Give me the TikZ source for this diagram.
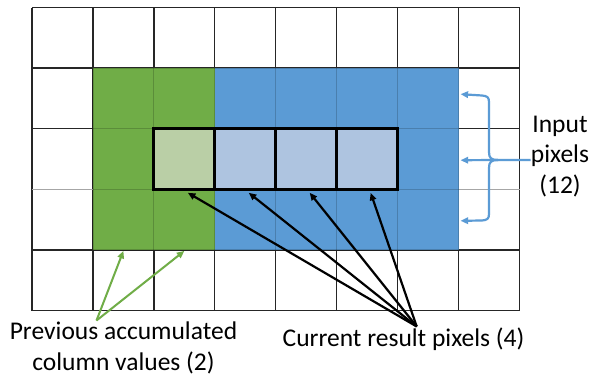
\documentclass[tikz,border=0pt]{standalone}
\usepackage{fontspec}
\setmainfont{Carlito}
\usetikzlibrary{arrows.meta}
\definecolor{accgreen}{HTML}{70AD47}
\definecolor{accblue}{HTML}{5B9BD5}
\definecolor{paleg}{HTML}{BACFA6}
\definecolor{paleb}{HTML}{AEC4E0}
\tikzset{
  gridline/.style={line width=1.3pt, black!85},
  faintline/.style={line width=1.2pt, black, opacity=0.18},
  rescell/.style={draw=black, line width=3pt, minimum width=60.94pt, minimum height=60.6pt, inner sep=0pt},
  lbl/.style={font=\fontsize{25.5}{30.5}\selectfont, align=center, inner sep=0pt},
  blackarrow/.style={line width=2.2pt, black, -{Triangle[length=7.5pt,width=6.5pt]}},
  greenarrow/.style={line width=2pt, accgreen, -{Triangle[length=7.5pt,width=6.5pt]}},
  bluearrow/.style={line width=2.2pt, accblue, -{Triangle[length=7.5pt,width=6.5pt]}},
}
\begin{document}
\begin{tikzpicture}[x=1pt, y=-1pt]
  \useasboundingbox (0,0) rectangle (592,378);
  \fill[white] (0,0) rectangle (592,378);

  % pixel grid, 8 columns x 5 rows
  \begin{scope}[shift={(32pt,-7.5pt)}, x=60.94pt, y=-60.6pt]
    \foreach \i in {0,...,8} \draw[gridline] (\i,0) -- (\i,5);
    \foreach \j in {0,...,5} \draw[gridline] (0,\j) -- (8,\j);
    % lighter row separator at the outer columns
    \draw[line width=1.3pt, black!35] (0,3) -- (1,3);
    \draw[line width=1.3pt, black!35] (7,3) -- (8,3);

    % accumulated columns and input pixels
    \fill[accgreen] (1,1) rectangle (3,4);
    \fill[accblue] (3,1) rectangle (7,4);
    \foreach \i in {1,...,7} \draw[faintline] (\i,1) -- (\i,4);
    \foreach \j in {1,...,4} \draw[faintline] (1,\j) -- (7,\j);

    % current result pixels
    \node[rescell, fill=paleg] (r1) at (2.5,2.5) {};
    \node[rescell, fill=paleb] (r2) at (3.5,2.5) {};
    \node[rescell, fill=paleb] (r3) at (4.5,2.5) {};
    \node[rescell, fill=paleb] (r4) at (5.5,2.5) {};

    % targets on the lower edge of the accumulated columns
    \coordinate (g1) at (1.5,4);
    \coordinate (g2) at (2.5,4);
    % targets on the right edge of the input pixels
    \coordinate (in1) at (7,1.43);
    \coordinate (in2) at (7,2.52);
    \coordinate (in3) at (7,3.52);
  \end{scope}

  % labels (base = baseline of the last line)
  \node[lbl, anchor=base] (inlbl) at (560,193) {Input\\pixels\\(12)};
  \node[lbl, anchor=base] (prevlbl) at (123.5,370) {Previous accumulated\\column values (2)};
  \node[lbl, anchor=base] (curlbl) at (403.5,346.7) {Current result pixels (4)};

  \coordinate (prevtip) at (96.5,320.5);
  \coordinate (curtip) at (416.7,326.5);
  \coordinate (bracetip) at (498,160);
  \coordinate (inend) at (530.5,160);

  % arrows to the result pixels
  \foreach \r in {r1,r2,r3,r4}
    \draw[blackarrow] (curtip) -- ([xshift=3.5pt,yshift=-2pt]\r.south);

  % arrows to the accumulated columns
  \draw[greenarrow] (prevtip) -- ([yshift=-1pt]g1);
  \draw[greenarrow] (prevtip) -- ([yshift=-1pt]g2);

  % brace to the input pixels
  \draw[bluearrow] (inend) -- (bracetip) .. controls (491,160) and (489,158) .. (489,152)
    -- (489,102) .. controls (489,97) and (487,96) .. (482,95.5) -- ([xshift=2pt]in1);
  \draw[bluearrow] (bracetip) .. controls (491,160) and (489,162) .. (489,168)
    -- (489,214) .. controls (489,219) and (487,220) .. (482,220.5) -- ([xshift=2pt]in3);
  \draw[bluearrow] (bracetip) -- ([xshift=2pt]in2);
\end{tikzpicture}
\end{document}
